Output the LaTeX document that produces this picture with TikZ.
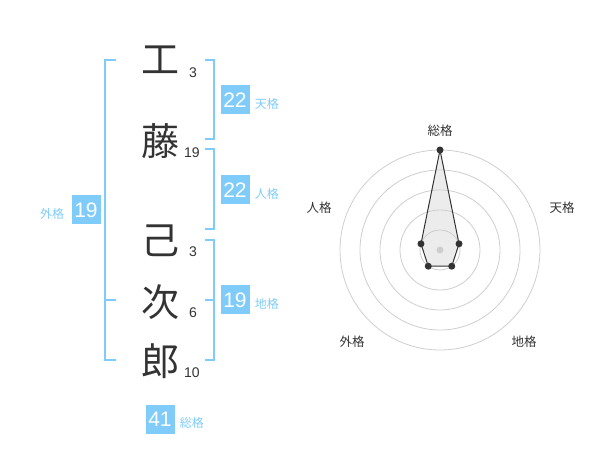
\documentclass[tikz,border=0pt]{standalone}
\usepackage{fontspec}
\setmainfont{Noto Sans CJK JP}
\newfontfamily\numfont{Liberation Sans}
\usetikzlibrary{positioning,calc}
\definecolor{skyline}{RGB}{127,204,250}
\definecolor{ink}{RGB}{51,51,51}
\definecolor{ringgray}{RGB}{206,206,206}
\definecolor{areagray}{RGB}{236,236,236}
\tikzset{
  x=1pt,y=1pt,
  kanji/.style={text=ink,font=\fontsize{38}{38}\selectfont,inner sep=0pt},
  strokes/.style={text=ink,font=\numfont\fontsize{14}{14}\selectfont,inner sep=0pt},
  scorebox/.style={fill=skyline,text=white,minimum width=29pt,minimum height=29pt,
    inner sep=0pt,font=\numfont\fontsize{21}{21}\selectfont},
  kakulabel/.style={text=skyline,font=\fontsize{12}{12}\selectfont,inner sep=0pt},
  brace/.style={draw=skyline,line width=2pt},
  ring/.style={draw=ringgray,line width=0.8pt},
  axislabel/.style={text=ink,font=\fontsize{12.5}{12.5}\selectfont,inner sep=0pt},
  dots/.style={fill=ink,circle,inner sep=0pt,minimum size=7pt}
}
\begin{document}
\begin{tikzpicture}
  \useasboundingbox (0,0) rectangle (600,-470);

  % name and stroke counts
  \node [kanji] (k1) at (160,-60) {工};
  \node [kanji] (k2) at (160,-141) {藤};
  \node [kanji] (k3) at (160,-241) {己};
  \node [kanji] (k4) at (160,-302) {次};
  \node [kanji] (k5) at (160,-361) {郎};
  \node [strokes] (s1) at (193,-73) {3};
  \node [strokes] (s2) at (192,-153) {19};
  \node [strokes] (s3) at (193,-252) {3};
  \node [strokes] (s4) at (193,-313) {6};
  \node [strokes] (s5) at (192,-373) {10};

  % brackets
  \draw [brace] (116,-60) -- (105,-60) -- (105,-360) -- (116,-360);
  \draw [brace] (105,-300) -- (116,-300);
  \draw [brace] (205,-60) -- (214,-60) -- (214,-139) -- (205,-139);
  \draw [brace] (205,-149) -- (214,-149) -- (214,-229) -- (205,-229);
  \draw [brace] (205,-240) -- (214,-240) -- (214,-360) -- (205,-360);
  \draw [brace] (205,-300) -- (214,-300);

  % scores
  \node [scorebox] (ten) at (235,-100) {22};
  \node [kakulabel,right=5pt of ten,yshift=-3.5pt] (tenl) {天格};
  \node [scorebox] (jin) at (235,-190) {22};
  \node [kakulabel,right=5pt of jin,yshift=-3.5pt] (jinl) {人格};
  \node [scorebox] (chi) at (235,-300) {19};
  \node [kakulabel,right=5pt of chi,yshift=-3.5pt] (chil) {地格};
  \node [scorebox] (gai) at (86,-210) {19};
  \node [kakulabel,left=7pt of gai,yshift=-3.5pt] (gail) {外格};
  \node [scorebox] (sou) at (160,-419) {41};
  \node [kakulabel,right=5pt of sou,yshift=-3.5pt] (soul) {総格};

  % radar chart
  \coordinate (c) at (440,-250);
  \coordinate (rsou) at ($(c)+(90:100)$);
  \coordinate (rten) at ($(c)+(18:20)$);
  \coordinate (rchi) at ($(c)+(-54:20)$);
  \coordinate (rgai) at ($(c)+(-126:20)$);
  \coordinate (rjin) at ($(c)+(162:20)$);
  \fill [areagray] (rsou) -- (rten) -- (rchi) -- (rgai) -- (rjin) -- cycle;
  \foreach \r in {20,40,...,100}
    \draw [ring] (c) circle (\r);
  \fill [ringgray] (c) circle (3.5);
  \draw [ink,line width=1pt,line join=round] (rsou) -- (rten) -- (rchi) -- (rgai) -- (rjin) -- cycle;
  \foreach \p in {rsou,rten,rchi,rgai,rjin}
    \node [dots] at (\p) {};

  \node [axislabel] (asou) at (440,-131) {総格};
  \node [axislabel] (aten) at (562,-208) {天格};
  \node [axislabel] (ajin) at (319,-208) {人格};
  \node [axislabel] (agai) at (352,-342) {外格};
  \node [axislabel] (achi) at (524,-342) {地格};
\end{tikzpicture}
\end{document}
